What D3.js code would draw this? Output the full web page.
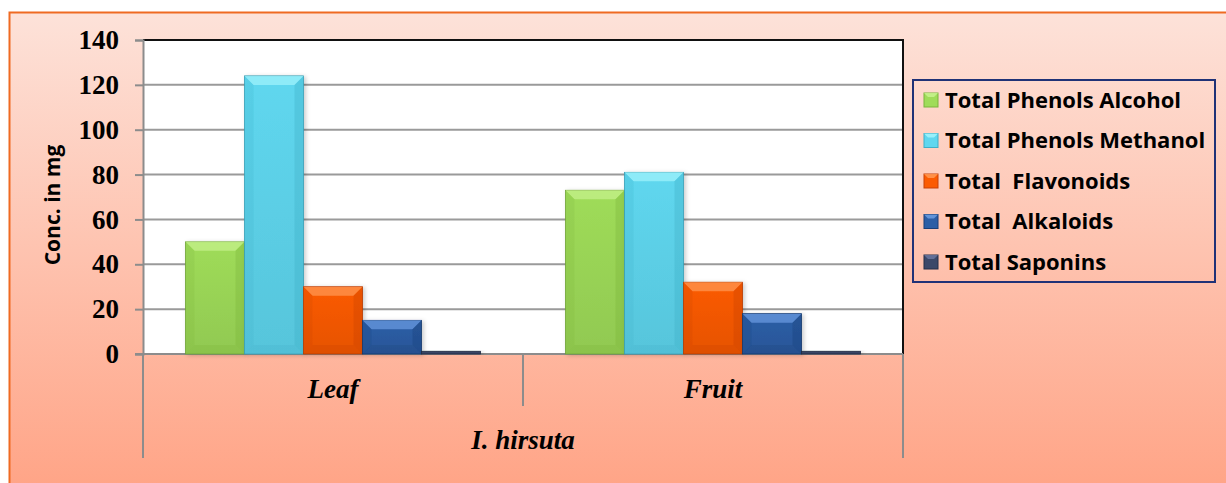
<!DOCTYPE html>
<html>
<head>
<meta charset="utf-8">
<script src="https://cdn.jsdelivr.net/npm/d3@7"></script>
<style>
  body { margin: 0; background: #fff; }
</style>
</head>
<body>
<div id="chart"></div>
<script>
const categories = ['Leaf', 'Fruit'];
const groupLabel = 'I. hirsuta';
const seriesNames = ['Total Phenols Alcohol', 'Total Phenols Methanol', 'Total  Flavonoids', 'Total  Alkaloids', 'Total Saponins'];
const phenolsAlcohol = [50, 73];
const phenolsMethanol = [124, 81];
const flavonoids = [30, 32];
const alkaloids = [15, 18];
const saponins = [1.2, 1.2];
const yTicks = [0, 20, 40, 60, 80, 100, 120, 140];

const seriesValues = [phenolsAlcohol, phenolsMethanol, flavonoids, alkaloids, saponins];
const palette = [
  { base: '#9fdc59', light: '#c8f28f', dark: '#7bb43c' },
  { base: '#5fd7ef', light: '#a2f4fc', dark: '#3eafc7' },
  { base: '#fb5b02', light: '#ff9a55', dark: '#c84208' },
  { base: '#2c5ea6', light: '#6c9de2', dark: '#1b3f78' },
  { base: '#3b4869', light: '#6a77a0', dark: '#252f48' }
];

const W = 1226, H = 483;
const plot = { left: 143, right: 903, top: 40, bottom: 354 };

const svg = d3.select('#chart').append('svg')
  .attr('width', W)
  .attr('height', H);

const defs = svg.append('defs');
const bg = defs.append('linearGradient')
  .attr('id', 'bg').attr('x1', 0).attr('y1', 0).attr('x2', 0).attr('y2', 1);
bg.append('stop').attr('offset', '0%').attr('stop-color', '#fde2d9');
bg.append('stop').attr('offset', '100%').attr('stop-color', '#ffa385');

const shadow = defs.append('filter').attr('id', 'shadow')
  .attr('x', '-20%').attr('y', '-20%').attr('width', '150%').attr('height', '150%');
shadow.append('feDropShadow')
  .attr('dx', 2).attr('dy', 1).attr('stdDeviation', 2)
  .attr('flood-color', '#000').attr('flood-opacity', 0.2);

palette.forEach((c, i) => {
  const g = defs.append('linearGradient')
    .attr('id', 'bar' + i).attr('x1', 0).attr('y1', 0).attr('x2', 0).attr('y2', 1);
  g.append('stop').attr('offset', '0%').attr('stop-color', c.base);
  g.append('stop').attr('offset', '100%').attr('stop-color', d3.color(c.base).darker(0.25));
});

// outer chart area
svg.append('rect')
  .attr('x', 9).attr('y', 13)
  .attr('width', W).attr('height', H)
  .attr('fill', 'url(#bg)');
svg.append('path')
  .attr('d', `M9.5,${H} V12.5 H${W}`)
  .attr('fill', 'none')
  .attr('stroke', '#ef6a22')
  .attr('stroke-width', 2);

const x0 = d3.scaleBand()
  .domain(categories)
  .range([plot.left, plot.right]);

const x1 = d3.scaleBand()
  .domain(seriesNames)
  .range([0, x0.bandwidth()])
  .paddingInner(0)
  .paddingOuter(0.72);

const y = d3.scaleLinear()
  .domain([0, 140])
  .range([plot.bottom, plot.top]);

svg.append('rect')
  .attr('x', plot.left).attr('y', plot.top)
  .attr('width', plot.right - plot.left)
  .attr('height', plot.bottom - plot.top)
  .attr('fill', '#fff');

// gridlines
svg.append('g')
  .selectAll('line')
  .data(yTicks.filter(d => d > 0 && d < 140))
  .join('line')
  .attr('x1', plot.left).attr('x2', plot.right)
  .attr('y1', d => y(d)).attr('y2', d => y(d))
  .attr('stroke', '#9a9a9a')
  .attr('stroke-width', 2);

// frame top/right
svg.append('path')
  .attr('d', `M${plot.left},${plot.top} H${plot.right} V${plot.bottom}`)
  .attr('fill', 'none')
  .attr('stroke', '#111')
  .attr('stroke-width', 2);

// y axis
const yAxis = d3.axisLeft(y)
  .tickValues(yTicks)
  .tickSize(8)
  .tickPadding(16)
  .tickFormat(d3.format('d'));

svg.append('g')
  .attr('transform', `translate(${plot.left},0)`)
  .call(yAxis)
  .call(g => g.select('.domain').attr('stroke', '#8c8c8c').attr('stroke-width', 2))
  .call(g => g.selectAll('.tick line').attr('stroke', '#8c8c8c').attr('stroke-width', 2))
  .call(g => g.selectAll('.tick text')
    .attr('fill', '#000')
    .attr('font-family', '"Liberation Serif", "Times New Roman", serif')
    .attr('font-weight', 'bold')
    .attr('font-size', 27));

svg.append('text')
  .attr('transform', `translate(60,${(plot.top + plot.bottom) / 2 + 8}) rotate(-90)`)
  .attr('text-anchor', 'middle')
  .attr('font-family', '"Open Sans", "Noto Sans", sans-serif')
  .attr('font-weight', 'bold')
  .attr('font-size', 21)
  .text('Conc. in mg');

// baseline
svg.append('line')
  .attr('x1', plot.left - 8).attr('x2', plot.right)
  .attr('y1', plot.bottom).attr('y2', plot.bottom)
  .attr('stroke', '#8c8c8c')
  .attr('stroke-width', 2);

// bars
const barData = [];
categories.forEach((cat, ci) => {
  seriesNames.forEach((s, si) => {
    barData.push({ cat, series: s, si, value: seriesValues[si][ci] });
  });
});

const bars = svg.append('g')
  .selectAll('g')
  .data(barData)
  .join('g')
  .attr('filter', 'url(#shadow)');

bars.each(function(d) {
  const g = d3.select(this);
  const bx = x0(d.cat) + x1(d.series);
  const bw = x1.bandwidth();
  const by = y(d.value);
  const bh = y(0) - by;
  const c = palette[d.si];
  const b = Math.min(9, bh / 2, bw / 2);
  g.append('rect')
    .attr('x', bx).attr('y', by)
    .attr('width', bw).attr('height', bh)
    .attr('fill', `url(#bar${d.si})`)
    .attr('stroke', d3.color(c.dark).darker(0.3))
    .attr('stroke-width', 0.8);
  if (bh < 4) return;
  const X2 = bx + bw, Y2 = by + bh;
  g.append('path')
    .attr('d', `M${bx},${by} L${X2},${by} L${X2 - b},${by + b} L${bx + b},${by + b} Z`)
    .attr('fill', c.light).attr('opacity', 0.7);
  g.append('path')
    .attr('d', `M${bx},${by} L${bx + b},${by + b} L${bx + b},${Y2 - b} L${bx},${Y2} Z`)
    .attr('fill', c.dark).attr('opacity', 0.2);
  g.append('path')
    .attr('d', `M${X2},${by} L${X2 - b},${by + b} L${X2 - b},${Y2 - b} L${X2},${Y2} Z`)
    .attr('fill', c.dark).attr('opacity', 0.35);
  g.append('path')
    .attr('d', `M${bx},${Y2} L${bx + b},${Y2 - b} L${X2 - b},${Y2 - b} L${X2},${Y2} Z`)
    .attr('fill', c.dark).attr('opacity', 0.25);
});

// category separators
const bounds = [plot.left, ...categories.slice(1).map(c => x0(c)), plot.right];
svg.append('g')
  .selectAll('line')
  .data(bounds)
  .join('line')
  .attr('x1', d => d).attr('x2', d => d)
  .attr('y1', plot.bottom)
  .attr('y2', (d, i) => (i === 0 || i === bounds.length - 1) ? 458 : 406)
  .attr('stroke', '#8c8c8c')
  .attr('stroke-width', 2);

svg.append('g')
  .selectAll('text')
  .data(categories)
  .join('text')
  .attr('x', d => x0(d) + x0.bandwidth() / 2)
  .attr('y', 398)
  .attr('text-anchor', 'middle')
  .attr('font-family', '"Liberation Serif", "Times New Roman", serif')
  .attr('font-weight', 'bold')
  .attr('font-style', 'italic')
  .attr('font-size', 27)
  .text(d => d);

svg.append('text')
  .attr('x', (plot.left + plot.right) / 2)
  .attr('y', 449)
  .attr('text-anchor', 'middle')
  .attr('font-family', '"Liberation Serif", "Times New Roman", serif')
  .attr('font-weight', 'bold')
  .attr('font-style', 'italic')
  .attr('font-size', 27)
  .text(groupLabel);

// legend
const legend = svg.append('g')
  .attr('transform', 'translate(913,80)');

legend.append('rect')
  .attr('width', 302).attr('height', 202)
  .attr('fill', 'none')
  .attr('stroke', '#1f3277')
  .attr('stroke-width', 2);

const item = legend.selectAll('.item')
  .data(seriesNames)
  .join('g')
  .attr('class', 'item')
  .attr('transform', (d, i) => `translate(10,${20 + i * 40.5})`);

item.append('rect')
  .attr('x', 1).attr('y', -7)
  .attr('width', 14).attr('height', 14)
  .attr('fill', (d, i) => palette[i].base)
  .attr('stroke', (d, i) => palette[i].dark)
  .attr('stroke-width', 1);

item.append('path')
  .attr('d', 'M1,-7 H15 L11,-3 H5 Z')
  .attr('fill', (d, i) => palette[i].light)
  .attr('opacity', 0.85);

item.append('text')
  .attr('x', 22)
  .attr('y', 0)
  .attr('dy', '0.36em')
  .attr('font-family', '"Open Sans", "Noto Sans", sans-serif')
  .attr('font-weight', 'bold')
  .attr('font-size', 22)
  .attr('fill', '#000')
  .attr('xml:space', 'preserve')
  .style('white-space', 'pre')
  .text(d => d);
</script>
</body>
</html>
